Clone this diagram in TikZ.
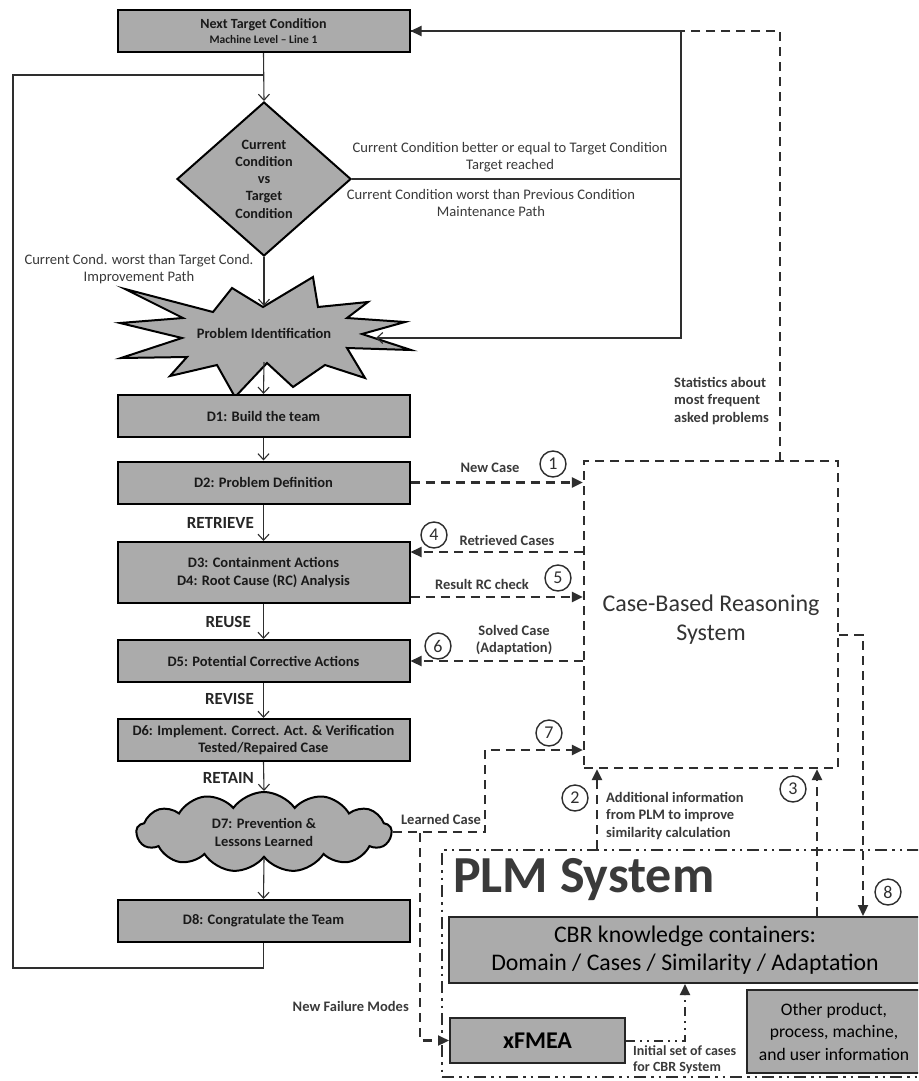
\documentclass[tikz,border=0pt]{standalone}
\usepackage{fontspec}
\setmainfont{Carlito}
\usetikzlibrary{arrows.meta,shapes.geometric,shapes.symbols,calc}
\definecolor{boxgray}{HTML}{ABABAB}
\definecolor{lblgray}{HTML}{3A3A3A}
\definecolor{linegray}{HTML}{2E2E2E}
\begin{document}
\begin{tikzpicture}[x=1pt,y=-1pt,
  stepbox/.style={draw=black, line width=2pt, fill=boxgray, minimum width=292pt, minimum height=42pt, inner sep=2pt, align=center, font=\bfseries\fontsize{14.5}{17}\selectfont, text=black!90},
  flow/.style={draw=linegray, line width=1.1pt, -{Straight Barb[length=6pt,width=11pt,line width=1.1pt]}},
  flowline/.style={draw=linegray, line width=1.1pt},
  dasharr/.style={draw=linegray, line width=2.2pt, dash pattern=on 9pt off 6pt, -{Triangle[length=11pt,width=10pt]}},
  dotarr/.style={draw=linegray, line width=2pt, dash pattern=on 9pt off 5pt on 2pt off 5pt on 2pt off 5pt, -{Triangle[length=11pt,width=10pt]}},
  lbl/.style={font=\bfseries\fontsize{14.5}{17.5}\selectfont, text=lblgray, align=center, inner sep=0pt},
  condlbl/.style={font=\fontsize{14.6}{17}\selectfont, text=lblgray, align=center, inner sep=0pt},
  rlbl/.style={font=\bfseries\fontsize{17}{17}\selectfont, text=black!85, inner sep=0pt},
  numc/.style={circle, draw=linegray, line width=1.4pt, minimum size=26pt, inner sep=0pt, font=\fontsize{18}{18}\selectfont, text=linegray},
  sysbox/.style={draw=black!85, line width=2pt, fill=boxgray, align=center, inner sep=0pt}
]
\useasboundingbox (0,0) rectangle (918,1081);
\fill[white] (0,0) rectangle (918,1081);

% ---------- star (Problem Identification) ----------
\draw[line width=2pt, fill=boxgray, line join=miter]
 (125,289) -- (213,312) -- (232,288) -- (263,307) -- (313,277) -- (318,307) -- (368,302)
 -- (347,318) -- (405,322) -- (362,334) -- (411,350) -- (347,348) -- (365,378) -- (325,365)
 -- (293,387) -- (267,363) -- (235,397) -- (217,365) -- (170,376) -- (187,357) -- (121,358)
 -- (182,338) -- (120,323) -- (183,318) -- cycle;
\node[font=\bfseries\fontsize{14.5}{15}\selectfont, text=black!90] (pid) at (264,333) {Problem Identification};
\coordinate (pidtop) at (264,306);
\coordinate (pidbot) at (264,362);
\coordinate (pidright) at (376,338);

% ---------- left flow ----------
\node[stepbox, font=\bfseries\fontsize{14}{17}\selectfont] (ntc) at (263.5,31) {Next Target Condition\\[-2pt]{\fontsize{11.5}{13}\selectfont Machine Level – Line 1}};
\node[diamond, draw=black, line width=2pt, fill=boxgray, minimum width=174pt, minimum height=154pt, inner sep=0pt, align=center, font=\bfseries\fontsize{14.2}{17.3}\selectfont, text=black!90] (dia) at (264,179) {Current\\Condition\\vs\\Target\\Condition};
\node[stepbox] (d1) at (263.5,416) {D1: Build the team};
\node[stepbox] (d2) at (263.5,482.5) {D2: Problem Definition};
\node[stepbox, minimum height=61pt, font=\bfseries\fontsize{14.5}{18}\selectfont] (d34) at (263.5,572.5) {D3: Containment Actions\\D4: Root Cause (RC) Analysis};
\node[stepbox] (d5) at (263.5,661) {D5: Potential Corrective Actions};
\node[stepbox] (d6) at (263.5,740) {D6: Implement. Correct. Act. \& Verification\\Tested/Repaired Case};
\node[cloud, cloud puffs=13, cloud puff arc=110, aspect=3.2, draw=black, line width=2pt, fill=boxgray, minimum width=255pt, minimum height=80pt, inner sep=0pt, align=center, font=\bfseries\fontsize{14.5}{18}\selectfont, text=black!90] (d7) at (264,832) {D7: Prevention \&\\Lessons Learned};
\node[stepbox] (d8) at (263.5,921) {D8: Congratulate the Team};

\draw[flow] (ntc.south) -- (dia.north);
\draw[flow] (dia.south) -- (pidtop);
\draw[flow] (pidbot) -- (d1.north);
\draw[flow] (d1.south) -- (d2.north);
\draw[flow] (d2.south) -- (d34.north);
\draw[flow] (d34.south) -- (d5.north);
\draw[flow] (d5.south) -- (d6.north);
\draw[flow] (d6.south) -- (d7.north);
\draw[flow] (d7.south) -- (d8.north);

\coordinate (lb) at (13,968);
\coordinate (lt) at (13,75);
\draw[flowline] (d8.south) |- (lb) |- (ntc.south |- lt);

\coordinate (rm) at (681,179);
\draw[flowline] (dia.east) -- (rm) |- (ntc.east);
\draw[flow] (rm) |- (pidright);

\node[condlbl] (lt1) at (510,157.5) {Current Condition better or equal to Target Condition\\Target reached};
\node[condlbl] (lt2) at (491,203) {Current Condition worst than Previous Condition\\Maintenance Path};
\node[condlbl] (lt3) at (139,269) {Current Cond. worst than Target Cond.\\Improvement Path};

\node[rlbl, anchor=east] (rretrieve) at (254,523) {RETRIEVE};
\node[rlbl, anchor=east] (rreuse) at (251,622) {REUSE};
\node[rlbl, anchor=east] (rrevise) at (254,699) {REVISE};
\node[rlbl, anchor=east] (rretain) at (254,778) {RETAIN};

% ---------- CBR system ----------
\node[draw=linegray, line width=2.2pt, dash pattern=on 9pt off 6pt, minimum width=254pt, minimum height=307pt, inner sep=0pt] (cbr) at (711,614.5) {};
\node[font=\fontsize{24}{29}\selectfont, text=black!80, align=center] (cbrt) at (711,620) {Case-Based Reasoning\\System};

\coordinate (st) at (780,461);
\draw[dasharr] (st) |- (ntc.east);
\node[lbl, anchor=west, align=left] (stl) at (674,401) {Statistics about\\most frequent\\asked problems};

\draw[dasharr] (d2.east) -- (d2.east -| cbr.west);
\coordinate (yret) at (500,552);
\draw[dasharr] (cbr.west |- yret) -- (d34.east |- yret);
\coordinate (yres) at (500,597);
\draw[dasharr] (d34.east |- yres) -- (cbr.west |- yres);
\draw[dasharr] (cbr.west |- d5.east) -- (d5.east);
\coordinate (l7) at (485,750);
\draw[dasharr] (d7.east) -| (l7) -- (cbr.west |- l7);

\node[lbl] (lnew) at (490,468) {New Case};
\node[lbl] (lret) at (507,540) {Retrieved Cases};
\node[lbl] (lres) at (482,584) {Result RC check};
\node[lbl] (lsol) at (514,640) {Solved Case\\(Adaptation)};
\node[lbl] (llearn) at (441,819) {Learned Case};
\node[lbl, anchor=east] (lfail) at (409,1006) {New Failure Modes};
\node[lbl, anchor=west, align=left] (ladd) at (606,816) {Additional information\\from PLM to improve\\similarity calculation};
\node[lbl, anchor=west, align=left, font=\bfseries\fontsize{14}{16}\selectfont] (linit) at (633,1060) {Initial set of cases\\for CBR System};

\node[numc] (n1) at (553,464) {1};
\node[numc] (n2) at (575,798) {2};
\node[numc] (n3) at (793,789) {3};
\node[numc] (n4) at (434,535) {4};
\node[numc] (n5) at (558,578) {5};
\node[numc] (n6) at (438,646) {6};
\node[numc] (n7) at (549,733) {7};
\node[numc] (n8) at (888,892) {8};

% ---------- PLM system ----------
\begin{scope}
\clip (0,0) rectangle (918,1081);
\node[draw=linegray, line width=2pt, dash pattern=on 12pt off 5pt on 2.5pt off 5pt on 2.5pt off 5pt, minimum width=493pt, minimum height=227pt, inner sep=0pt] (plm) at (688.5,963.5) {};
\node[sysbox, minimum width=472pt, minimum height=66pt, font=\fontsize{23.8}{28}\selectfont] (kb) at (685,950) {CBR knowledge containers:\\Domain / Cases / Similarity / Adaptation};
\node[sysbox, minimum width=174pt, minimum height=83pt, font=\fontsize{17.6}{22.5}\selectfont] (oth) at (834,1031.5) {Other product,\\process, machine,\\and user information};
\end{scope}
\node[font=\bfseries\fontsize{52}{52}\selectfont, text=lblgray, anchor=base west, inner sep=0pt] (plmt) at (453,892) {PLM System};
\node[sysbox, minimum width=175pt, minimum height=45pt, font=\bfseries\fontsize{24}{24}\selectfont] (xfmea) at (537.5,1040.5) {xFMEA};

\coordinate (nf) at (420,833);
\draw[dasharr] (nf) |- (xfmea.west);
\coordinate (c2) at (597,850);
\draw[dasharr] (plm.north -| c2) -- (cbr.south -| c2);
\coordinate (c3) at (817,900);
\draw[dasharr] (kb.north -| c3) -- (cbr.south -| c3);
\coordinate (c8) at (863,635);
\draw[dasharr] (cbr.east |- c8) -| (kb.north -| c8);
\coordinate (ci) at (685,1000);
\draw[dotarr] (xfmea.east) -| (kb.south -| ci);
\end{tikzpicture}
\end{document}
